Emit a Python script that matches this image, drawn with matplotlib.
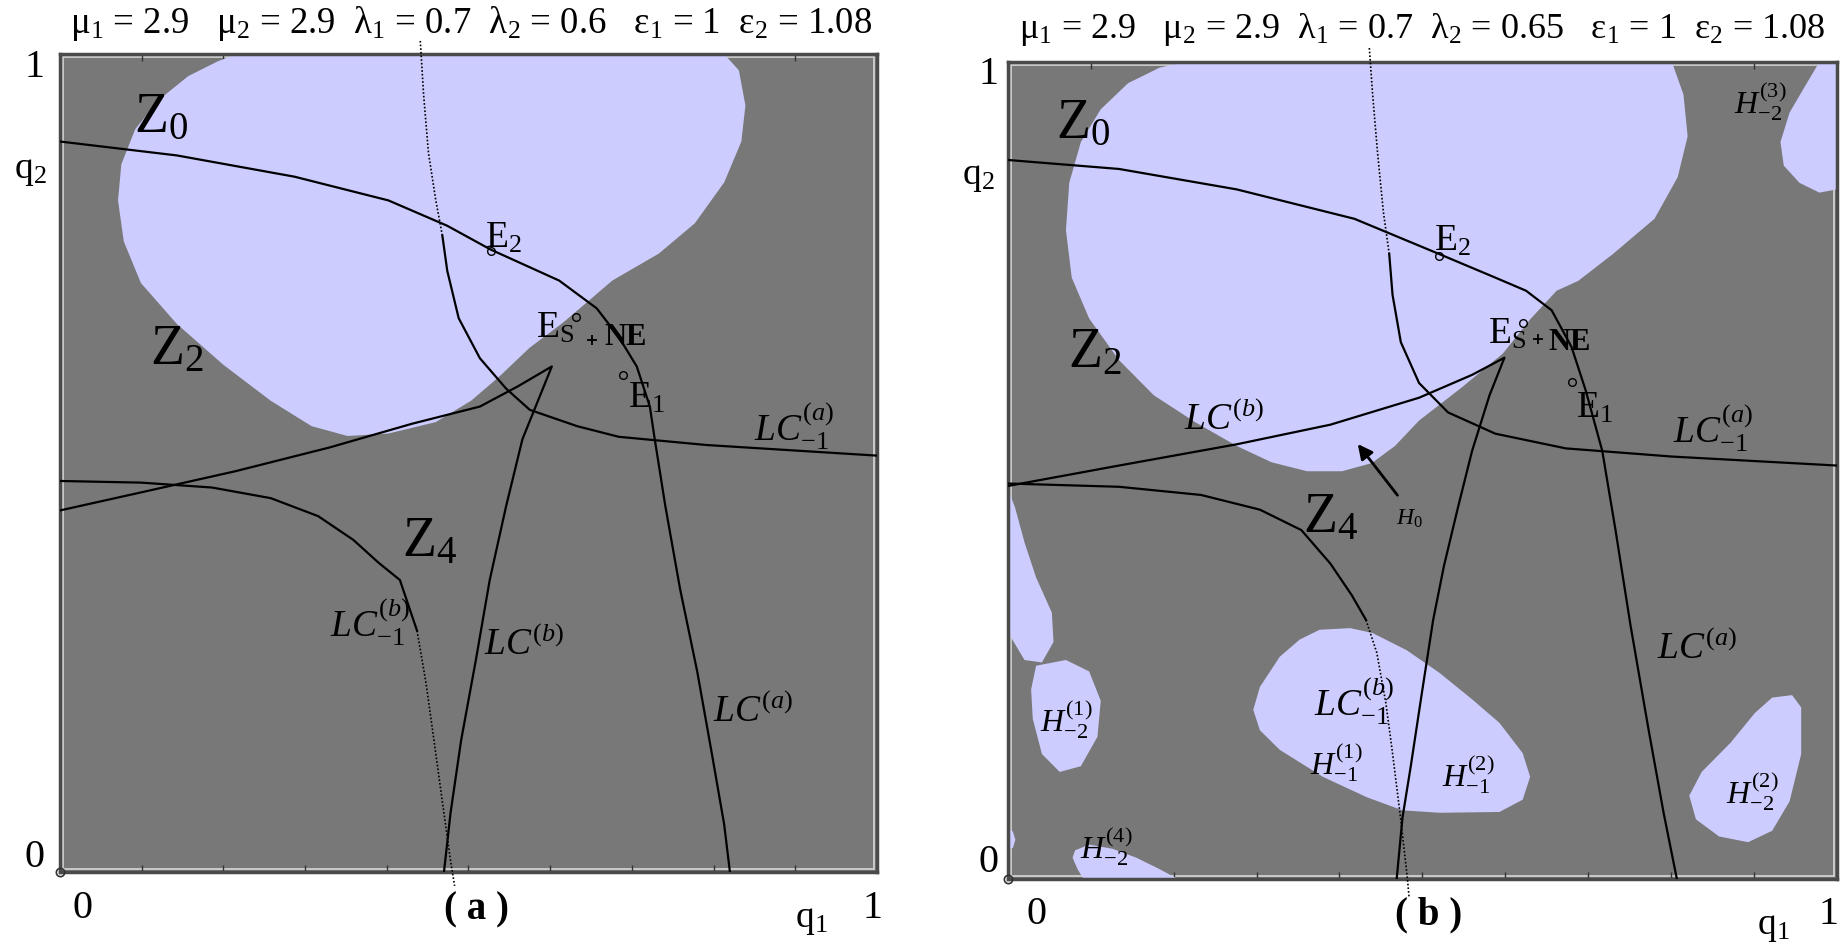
import matplotlib
matplotlib.use("Agg")
import matplotlib.pyplot as plt
from matplotlib.patches import Rectangle

plt.rcParams['font.family'] = ['Liberation Serif', 'DejaVu Serif']
plt.rcParams['mathtext.fontset'] = 'custom'
plt.rcParams['mathtext.rm'] = 'Liberation Serif'
plt.rcParams['mathtext.it'] = 'Liberation Serif:italic'
plt.rcParams['mathtext.bf'] = 'Liberation Serif:bold'

DARK = '#787878'
LIGHT = '#ccccff'

# ---------------- panel (a) data : (q1, q2) ----------------
a_blob_q1 = [0.216, 0.813, 0.831, 0.839, 0.834, 0.813, 0.777, 0.733, 0.676, 0.648, 0.615, 0.575,
             0.537, 0.503, 0.460, 0.402, 0.352, 0.308, 0.258, 0.200, 0.143, 0.099, 0.078, 0.071,
             0.075, 0.092, 0.121, 0.157, 0.193]
a_blob_q2 = [1.0, 1.0, 0.980, 0.937, 0.893, 0.843, 0.793, 0.756, 0.723, 0.699, 0.671, 0.641,
             0.605, 0.576, 0.550, 0.536, 0.533, 0.545, 0.576, 0.620, 0.670, 0.720, 0.771, 0.821,
             0.865, 0.908, 0.944, 0.973, 0.991]

# LC^(a) : through E2, down to the bottom
a_lca_q1 = [0, 0.143, 0.287, 0.402, 0.474, 0.527, 0.611, 0.657, 0.684, 0.706, 0.722, 0.728,
            0.741, 0.759, 0.780, 0.798, 0.813, 0.820]
a_lca_q2 = [0.893, 0.876, 0.850, 0.821, 0.790, 0.761, 0.723, 0.689, 0.654, 0.618, 0.569, 0.529,
            0.447, 0.346, 0.245, 0.144, 0.058, 0.0]
# LC_-1^(a) : dotted top part then solid
a_lcam1_dot_q1 = [0.441, 0.445, 0.451, 0.460, 0.468]
a_lcam1_dot_q2 = [1.016, 0.951, 0.879, 0.821, 0.778]
a_lcam1_q1 = [0.468, 0.474, 0.488, 0.514, 0.546, 0.575, 0.633, 0.684, 0.791, 1.0]
a_lcam1_q2 = [0.778, 0.735, 0.677, 0.628, 0.591, 0.565, 0.545, 0.532, 0.522, 0.509]
# LC_-1^(b)
a_lcbm1_q1 = [0, 0.099, 0.186, 0.258, 0.316, 0.359, 0.390, 0.416, 0.437]
a_lcbm1_q2 = [0.478, 0.476, 0.470, 0.457, 0.435, 0.406, 0.378, 0.357, 0.295]
a_lcbm1_dot_q1 = [0.437, 0.448, 0.458, 0.468, 0.478, 0.483]
a_lcbm1_dot_q2 = [0.295, 0.231, 0.159, 0.086, 0.014, -0.017]
# LC^(b) with its cusp
a_lcb_q1 = [0, 0.099, 0.215, 0.330, 0.431, 0.514, 0.561, 0.602, 0.566, 0.546, 0.526, 0.509,
            0.491, 0.478, 0.470]
a_lcb_q2 = [0.442, 0.464, 0.490, 0.519, 0.548, 0.569, 0.594, 0.618, 0.529, 0.447, 0.357, 0.259,
            0.161, 0.072, 0.0]
a_E2 = (0.527, 0.759)
a_ES = (0.631, 0.679)
a_NE = (0.651, 0.650)
a_E1 = (0.689, 0.608)

# ---------------- panel (b) data ----------------
b_blob_q1 = [0.213, 0.801, 0.815, 0.820, 0.808, 0.780, 0.730, 0.688, 0.662, 0.631, 0.597, 0.548,
             0.496, 0.467, 0.439, 0.403, 0.361, 0.318, 0.276, 0.226, 0.176, 0.134, 0.098, 0.077,
             0.070, 0.074, 0.088, 0.112, 0.145, 0.183]
b_blob_q2 = [1.0, 1.0, 0.960, 0.909, 0.859, 0.808, 0.765, 0.732, 0.720, 0.686, 0.643, 0.602,
             0.561, 0.530, 0.509, 0.499, 0.499, 0.510, 0.530, 0.559, 0.592, 0.635, 0.686, 0.736,
             0.794, 0.852, 0.902, 0.942, 0.974, 0.993]
b_h3_q1 = [0.979, 1.0, 1.0, 0.979, 0.955, 0.936, 0.932, 0.943, 0.962]
b_h3_q2 = [1.0, 1.0, 0.844, 0.840, 0.852, 0.873, 0.902, 0.938, 0.971]
b_strip_q1 = [0, 0.0085, 0.020, 0.034, 0.053, 0.055, 0.041, 0.020, 0.003, 0]
b_strip_q2 = [0.477, 0.455, 0.412, 0.369, 0.326, 0.290, 0.265, 0.268, 0.297, 0.30]
b_h1m2_q1 = [0.034, 0.070, 0.098, 0.112, 0.108, 0.088, 0.0625, 0.041, 0.030, 0.028]
b_h1m2_q2 = [0.261, 0.268, 0.254, 0.218, 0.174, 0.138, 0.131, 0.153, 0.196, 0.232]
b_sliver_q1 = [0, 0.006, 0.009, 0.006, 0]
b_sliver_q2 = [0.062, 0.058, 0.048, 0.038, 0.036]
b_h4_q1 = [0.081, 0.098, 0.126, 0.155, 0.183, 0.205, 0.091, 0.084, 0.078]
b_h4_q2 = [0.035, 0.042, 0.037, 0.026, 0.012, 0.0, 0.0, 0.012, 0.026]
b_hm1_q1 = [0.376, 0.413, 0.440, 0.481, 0.521, 0.561, 0.593, 0.621, 0.630, 0.621, 0.593, 0.521,
            0.476, 0.433, 0.380, 0.328, 0.304, 0.296, 0.304, 0.328, 0.352]
b_hm1_q2 = [0.305, 0.307, 0.301, 0.280, 0.252, 0.219, 0.191, 0.154, 0.125, 0.097, 0.082, 0.081,
            0.084, 0.100, 0.125, 0.158, 0.182, 0.207, 0.235, 0.272, 0.293]
b_h2m2_q1 = [0.922, 0.946, 0.957, 0.957, 0.943, 0.922, 0.893, 0.858, 0.830, 0.822, 0.837, 0.872, 0.901]
b_h2m2_q2 = [0.222, 0.225, 0.210, 0.153, 0.095, 0.059, 0.045, 0.052, 0.073, 0.102, 0.131, 0.167, 0.203]

b_lca_q1 = [0, 0.134, 0.276, 0.418, 0.520, 0.588, 0.625, 0.656, 0.680, 0.697, 0.717, 0.733,
            0.751, 0.773, 0.791, 0.807]
b_lca_q2 = [0.880, 0.869, 0.844, 0.808, 0.765, 0.736, 0.720, 0.696, 0.651, 0.598, 0.524, 0.427,
            0.311, 0.182, 0.081, 0.0]
b_lcam1_dot_q1 = [0.436, 0.440, 0.446, 0.453, 0.460]
b_lcam1_dot_q2 = [1.017, 0.960, 0.888, 0.816, 0.765]
b_lcam1_q1 = [0.460, 0.464, 0.474, 0.496, 0.531, 0.588, 0.673, 0.801, 1.0]
b_lcam1_q2 = [0.765, 0.715, 0.657, 0.607, 0.571, 0.545, 0.527, 0.517, 0.506]
b_lcbm1_q1 = [0, 0.134, 0.233, 0.304, 0.354, 0.389, 0.415, 0.432]
b_lcbm1_q2 = [0.484, 0.480, 0.470, 0.452, 0.427, 0.386, 0.347, 0.317]
b_lcbm1_dot_q1 = [0.432, 0.445, 0.456, 0.464, 0.474, 0.482, 0.484]
b_lcbm1_dot_q2 = [0.317, 0.277, 0.215, 0.154, 0.072, 0.0, -0.023]
b_lcb_q1 = [0, 0.134, 0.276, 0.389, 0.496, 0.560, 0.599, 0.581, 0.560, 0.543, 0.526, 0.513,
            0.499, 0.486, 0.476, 0.469]
b_lcb_q2 = [0.481, 0.506, 0.532, 0.556, 0.589, 0.617, 0.638, 0.592, 0.524, 0.455, 0.383, 0.317,
            0.225, 0.138, 0.075, 0.0]
b_E2 = (0.520, 0.762)
b_ES = (0.621, 0.680)
b_NE = (0.639, 0.661)
b_E1 = (0.680, 0.608)

title_a = 'μ$_1$ = 2.9   μ$_2$ = 2.9  λ$_1$ = 0.7  λ$_2$ = 0.6   ε$_1$ = 1  ε$_2$ = 1.08'
title_b = 'μ$_1$ = 2.9   μ$_2$ = 2.9  λ$_1$ = 0.7  λ$_2$ = 0.65   ε$_1$ = 1  ε$_2$ = 1.08'


def setup(ax):
    ax.set_facecolor(DARK)
    ax.set_xlim(0, 1)
    ax.set_ylim(0, 1)
    ax.set_xticks([i / 10 for i in range(1, 10)])
    ax.set_yticks([])
    ax.tick_params(axis='x', top=True, bottom=True, direction='in', length=5, width=1,
                   color='#333333', labelbottom=False)
    for s in ax.spines.values():
        s.set_color('#4a4a4a')
        s.set_linewidth(2.5)
    ax.add_patch(Rectangle((0.004, 0.004), 0.992, 0.992, transform=ax.transAxes, fill=False,
                           ec='#d8d8d8', lw=1.2, zorder=1.5))
    ax.plot([0], [0], 'o', ms=6, mfc='none', mec='#333333', mew=1.2, clip_on=False, zorder=6)


def curves(ax, solid, dotted):
    for x, y in solid:
        ax.plot(x, y, color='black', lw=1.6, zorder=3)
    for x, y in dotted:
        ax.plot(x, y, color='black', lw=1.2, ls=(0, (1, 1.2)), clip_on=False, zorder=3)


def points(ax, pts):
    for p in pts:
        ax.plot(p[0], p[1], 'o', ms=5.5, mfc='none', mec='black', mew=1.0, zorder=4)


fig = plt.figure(figsize=(18.47, 9.44), dpi=100)
axa = fig.add_axes([0.0325, 0.0763, 0.4423, 0.8665])
axb = fig.add_axes([0.5457, 0.0689, 0.4488, 0.8655])

# ---------- (a) ----------
setup(axa)
axa.fill(a_blob_q1, a_blob_q2, color=LIGHT, lw=0, zorder=2)
curves(axa, [(a_lca_q1, a_lca_q2), (a_lcam1_q1, a_lcam1_q2), (a_lcbm1_q1, a_lcbm1_q2),
             (a_lcb_q1, a_lcb_q2)],
       [(a_lcam1_dot_q1, a_lcam1_dot_q2), (a_lcbm1_dot_q1, a_lcbm1_dot_q2)])
points(axa, [a_E2, a_ES, a_E1])
axa.plot(*a_NE, marker='+', color='black', ms=7, mew=1.3, zorder=4)

lab = dict(ha='center', va='center', zorder=5)
axa.text(0.124, 0.922, 'Z$_0$', fontsize=40, **lab)
axa.text(0.143, 0.638, 'Z$_2$', fontsize=40, **lab)
axa.text(0.452, 0.403, 'Z$_4$', fontsize=40, **lab)
axa.text(0.380, 0.305, r'$LC_{-1}^{(b)}$', fontsize=27, **lab)
axa.text(0.568, 0.277, r'$LC^{(b)}$', fontsize=27, **lab)
axa.text(0.849, 0.195, r'$LC^{(a)}$', fontsize=27, **lab)
axa.text(0.899, 0.545, r'$LC_{-1}^{(a)}$', fontsize=27, **lab)
axa.text(0.543, 0.775, 'E$_2$', fontsize=27, **lab)
axa.text(0.606, 0.665, 'E$_{\\rm S}$', fontsize=27, **lab)
axa.text(0.692, 0.654, 'NE', fontsize=22, fontweight='bold', **lab)
axa.text(0.718, 0.579, 'E$_1$', fontsize=27, **lab)

axa.text(0.503, 1.037, title_a, fontsize=26.5, ha='center', va='center', transform=axa.transAxes)
axa.text(-0.031, 0.984, '1', fontsize=29, ha='center', va='center', transform=axa.transAxes)
axa.text(-0.031, 0.018, '0', fontsize=29, ha='center', va='center', transform=axa.transAxes)
axa.text(-0.036, 0.857, 'q$_2$', fontsize=27, ha='center', va='center', transform=axa.transAxes)
axa.text(0.027, -0.045, '0', fontsize=29, ha='center', va='center', transform=axa.transAxes)
axa.text(0.51, -0.047, '( a )', fontsize=28, fontweight='bold', ha='center', va='center',
         transform=axa.transAxes)
axa.text(0.92, -0.058, 'q$_1$', fontsize=27, ha='center', va='center', transform=axa.transAxes)
axa.text(0.995, -0.045, '1', fontsize=29, ha='center', va='center', transform=axa.transAxes)

# ---------- (b) ----------
setup(axb)
for x, y in [(b_blob_q1, b_blob_q2), (b_h3_q1, b_h3_q2), (b_strip_q1, b_strip_q2),
             (b_h1m2_q1, b_h1m2_q2), (b_sliver_q1, b_sliver_q2), (b_h4_q1, b_h4_q2),
             (b_hm1_q1, b_hm1_q2), (b_h2m2_q1, b_h2m2_q2)]:
    axb.fill(x, y, color=LIGHT, lw=0, zorder=2)
curves(axb, [(b_lca_q1, b_lca_q2), (b_lcam1_q1, b_lcam1_q2), (b_lcbm1_q1, b_lcbm1_q2),
             (b_lcb_q1, b_lcb_q2)],
       [(b_lcam1_dot_q1, b_lcam1_dot_q2), (b_lcbm1_dot_q1, b_lcbm1_dot_q2)])
points(axb, [b_E2, b_ES, b_E1])
axb.plot(*b_NE, marker='+', color='black', ms=7, mew=1.3, zorder=4)

axb.text(0.091, 0.924, 'Z$_0$', fontsize=40, **lab)
axb.text(0.105, 0.643, 'Z$_2$', fontsize=40, **lab)
axb.text(0.389, 0.441, 'Z$_4$', fontsize=40, **lab)
axb.text(0.261, 0.562, r'$LC^{(b)}$', fontsize=27, **lab)
axb.text(0.851, 0.552, r'$LC_{-1}^{(a)}$', fontsize=27, **lab)
axb.text(0.832, 0.281, r'$LC^{(a)}$', fontsize=27, **lab)
axb.text(0.418, 0.218, r'$LC_{-1}^{(b)}$', fontsize=27, **lab)
axb.text(0.908, 0.952, r'$H_{-2}^{(3)}$', fontsize=23, **lab)
axb.text(0.070, 0.196, r'$H_{-2}^{(1)}$', fontsize=23, **lab)
axb.text(0.396, 0.143, r'$H_{-1}^{(1)}$', fontsize=23, **lab)
axb.text(0.555, 0.128, r'$H_{-1}^{(2)}$', fontsize=23, **lab)
axb.text(0.898, 0.107, r'$H_{-2}^{(2)}$', fontsize=23, **lab)
axb.text(0.119, 0.040, r'$H_{-2}^{(4)}$', fontsize=23, **lab)
axb.text(0.484, 0.441, r'$H_0$', fontsize=17, **lab)
axb.annotate('', xy=(0.420, 0.535), xytext=(0.472, 0.467), zorder=5,
             arrowprops=dict(arrowstyle='-|>', color='black', lw=2, mutation_scale=22))
axb.text(0.536, 0.780, 'E$_2$', fontsize=27, **lab)
axb.text(0.602, 0.667, 'E$_{\\rm S}$', fontsize=27, **lab)
axb.text(0.678, 0.657, 'NE', fontsize=22, fontweight='bold', **lab)
axb.text(0.708, 0.576, 'E$_1$', fontsize=27, **lab)

axb.text(0.50, 1.040, title_b, fontsize=26, ha='center', va='center', transform=axb.transAxes)
axb.text(-0.023, 0.985, '1', fontsize=29, ha='center', va='center', transform=axb.transAxes)
axb.text(-0.023, 0.02, '0', fontsize=29, ha='center', va='center', transform=axb.transAxes)
axb.text(-0.036, 0.859, 'q$_2$', fontsize=27, ha='center', va='center', transform=axb.transAxes)
axb.text(0.034, -0.044, '0', fontsize=29, ha='center', va='center', transform=axb.transAxes)
axb.text(0.508, -0.044, '( b )', fontsize=28, fontweight='bold', ha='center', va='center',
         transform=axb.transAxes)
axb.text(0.923, -0.059, 'q$_1$', fontsize=27, ha='center', va='center', transform=axb.transAxes)
axb.text(0.99, -0.044, '1', fontsize=29, ha='center', va='center', transform=axb.transAxes)

fig.savefig('out.png', dpi=100)
